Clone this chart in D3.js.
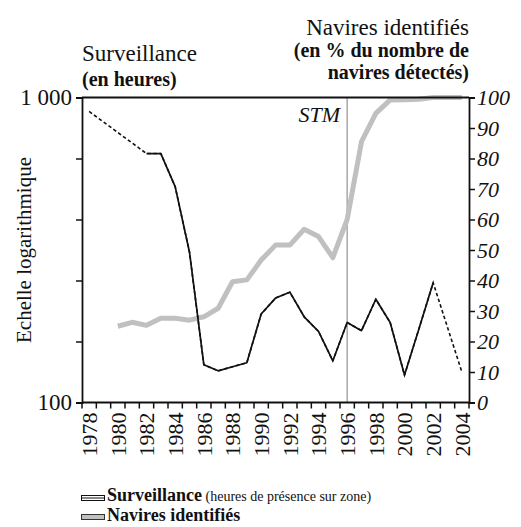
<!DOCTYPE html>
<html><head><meta charset="utf-8">
<script src="https://cdn.jsdelivr.net/npm/d3@7"></script>
<style>body{margin:0;background:#fff}svg{display:block}text{font-family:"Liberation Serif",serif;fill:#111}</style>
</head><body><svg id="c" width="521" height="527"></svg>
<script>
const years = d3.range(1978, 2005);
const yearLabels = [1978,1980,1982,1984,1986,1988,1990,1992,1994,1996,1998,2000,2002,2004];
const surveillanceHours = [900,null,null,null,655,655,510,311,133,127,131,135,195,220,230,191,171,137,183,172,218,183,123,174,247,null,126];
const identifiedPct = [null,null,25,26.3,25.3,27.6,27.6,27,28.1,30.9,39.6,40.2,46.7,51.6,51.6,56.8,54.4,47.5,60,85.5,94.8,99.2,99.3,99.4,100,100,100];
const leftTicks = [100,158.5,251.2,398.1,631,1000];
const leftTickLabels = {100:"100",1000:"1 000"};
const rightTicks = [0,10,20,30,40,50,60,70,80,90,100];
const stmYear = 1996;

const svg = d3.select("#c");
const L = 82, R = 469, T = 97.5, B = 402.5;
const x = d3.scaleBand().domain(years).range([L, R]);
const xc = d => x(d) + x.bandwidth()/2;
const yL = d3.scaleLog().domain([100,1000]).range([B, T]);
const yR = d3.scaleLinear().domain([0,100]).range([B, T]);

// STM line
svg.append("line").attr("x1", xc(stmYear)).attr("x2", xc(stmYear)).attr("y1", T).attr("y2", B)
  .attr("stroke", "#a8a8a8").attr("stroke-width", 1.5);
svg.append("text").attr("x", xc(stmYear) - 7).attr("y", 122).attr("text-anchor","end")
  .attr("font-style","italic").attr("font-size", 22).text("STM");

// gray line
const pctData = years.map((yr,i)=>({yr, v: identifiedPct[i]}));
svg.append("path").datum(pctData.filter(d=>d.v!=null))
  .attr("fill","none").attr("stroke","#c0c0c0").attr("stroke-width",5).attr("stroke-linejoin","round")
  .attr("d", d3.line().x(d=>xc(d.yr)).y(d=>yR(d.v)));

// surveillance line
const sData = years.map((yr,i)=>({yr, v: surveillanceHours[i]}));
svg.append("path").datum(sData.filter(d=>d.v!=null))
  .attr("fill","none").attr("stroke","#111").attr("stroke-width",1.6).attr("stroke-dasharray","3.5,2.5")
  .attr("d", d3.line().x(d=>xc(d.yr)).y(d=>yL(d.v)));
svg.append("path").datum(sData)
  .attr("fill","none").attr("stroke","#111").attr("stroke-width",1.7).attr("stroke-linejoin","round")
  .attr("d", d3.line().defined(d=>d.v!=null).x(d=>xc(d.yr)).y(d=>yL(d.v)));

// frame top
svg.append("line").attr("x1",L).attr("x2",R).attr("y1",T).attr("y2",T).attr("stroke","#111").attr("stroke-width",2);

// left axis
const gl = svg.append("g").attr("transform",`translate(${L},0)`)
  .call(d3.axisLeft(yL).tickValues(leftTicks).tickSize(6).tickPadding(4).tickFormat(d=>leftTickLabels[d]||""));
// right axis
const gr = svg.append("g").attr("transform",`translate(${R},0)`)
  .call(d3.axisRight(yR).tickValues(rightTicks).tickSize(6).tickPadding(2).tickFormat(d3.format("d")));
// bottom axis
const gb = svg.append("g").attr("transform",`translate(0,${B})`)
  .call(d3.axisBottom(x).tickValues(yearLabels).tickSize(0).tickPadding(0).tickFormat(d=>d));
[gl,gr,gb].forEach(g=>{g.select(".domain").attr("stroke","#111").attr("stroke-width",1.8);
  g.selectAll(".tick line").attr("stroke","#111").attr("stroke-width",1.5);
  g.selectAll("text").attr("font-family","Liberation Serif").attr("fill","#111");});
gl.selectAll("text").attr("font-size",23).attr("dy","0.3em").style("white-space","pre");
gr.selectAll("text").attr("font-size",22).attr("font-style","italic").attr("dy","0.33em");
gb.select(".domain").attr("d",`M${L},0H${R}`);
gb.selectAll(".tick text").attr("font-size",22).attr("text-anchor","end")
  .attr("transform","rotate(-90)").attr("x",-10).attr("y",0).attr("dy","0.35em");
// band edge ticks
svg.append("g").selectAll("line").data(years.concat([2005])).join("line")
  .attr("x1",d=> d===2005 ? R : x(d)).attr("x2",d=> d===2005 ? R : x(d))
  .attr("y1",B).attr("y2",B+6).attr("stroke","#111").attr("stroke-width",1.5);

// titles
svg.append("text").attr("x",L).attr("y",61).attr("font-size",23).text("Surveillance");
svg.append("text").attr("x",L).attr("y",86).attr("font-size",20).attr("font-weight","bold").text("(en heures)");
svg.append("text").attr("x",R).attr("y",35).attr("font-size",23).attr("text-anchor","end").text("Navires identifiés");
svg.append("text").attr("x",R).attr("y",57).attr("font-size",20).attr("font-weight","bold").attr("text-anchor","end").text("(en % du nombre de");
svg.append("text").attr("x",R).attr("y",79).attr("font-size",20).attr("font-weight","bold").attr("text-anchor","end").text("navires détectés)");
svg.append("text").attr("transform",`translate(31,250) rotate(-90)`).attr("text-anchor","middle")
  .attr("font-size",21).text("Echelle logarithmique");

// legend
const lg = svg.append("g");
lg.append("rect").attr("x",81.5).attr("y",495.5).attr("width",23).attr("height",5).attr("fill","#fff").attr("stroke","#111").attr("stroke-width",1);
lg.append("line").attr("x1",81.5).attr("x2",104.5).attr("y1",498).attr("y2",498).attr("stroke","#111").attr("stroke-width",1);
lg.append("rect").attr("x",81.5).attr("y",514.5).attr("width",23).attr("height",5).attr("fill","#c0c0c0").attr("stroke","#333").attr("stroke-width",1);
const t1 = lg.append("text").attr("x",107).attr("y",501);
t1.append("tspan").attr("font-size",18).attr("font-weight","bold").text("Surveillance");
t1.append("tspan").attr("font-size",14).text(" (heures de présence sur zone)");
lg.append("text").attr("x",107).attr("y",521).attr("font-size",18).attr("font-weight","bold").text("Navires identifiés");
</script></body></html>
